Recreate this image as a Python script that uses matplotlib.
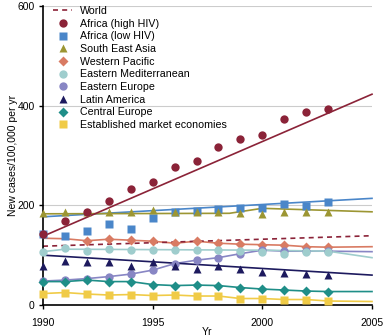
import numpy as np
import matplotlib
matplotlib.use('Agg')
import matplotlib.pyplot as plt
from matplotlib.lines import Line2D
from matplotlib.legend_handler import HandlerLine2D

plt.rcParams['font.family'] = ['Liberation Sans', 'DejaVu Sans']

# Observed points (1990-2003)
years = list(range(1990, 2004))
africa_high = [142, 169, 187, 209, 233, 246, 277, 289, 318, 334, 342, 373, 388, 393]
africa_low = [142, 139, 148, 162, 153, 174, 187, 189, 193, 195, 195, 202, 199, 207]
se_asia = [184, 187, 187, 187, 187, 190, 186, 187, 187, 184, 182, 187, 186, 186]
wp_years = list(range(1992, 2004))
w_pacific = [129, 132, 130, 128, 124, 128, 124, 122, 121, 120, 117, 116]
e_med = [107, 114, 109, 112, 110, 110, 110, 110, 110, 108, 107, 102, 107, 107]
e_europe = [48, 50, 53, 57, 62, 70, 83, 90, 95, 103, 110, 108, 108, 108]
latin_am = [79, 89, 87, 86, 79, 87, 79, 72, 79, 72, 67, 65, 62, 60]
c_europe = [47, 47, 50, 47, 47, 41, 39, 40, 39, 35, 32, 30, 28, 27]
est_market = [23, 25, 22, 20, 21, 19, 20, 18, 18, 13, 13, 11, 11, 8]

# Fitted / model lines
world_line_x, world_line_y = [1990, 2005], [118, 139]
africa_high_line_x, africa_high_line_y = [1990, 2005], [138, 423]
africa_low_line_x, africa_low_line_y = [1990, 2005], [177, 214]
se_asia_line_x = [1990, 1998.5, 2000, 2005]
se_asia_line_y = [183, 184, 194, 187]
wp_line_x = [1990, 1991] + wp_years + [2005]
wp_line_y = [134, 133] + w_pacific + [117]
e_med_line_x = [1990, 1991, 2000, 2003, 2005]
e_med_line_y = [107, 112, 110, 108, 95]
e_europe_line_x = years + [2005]
e_europe_line_y = e_europe + [107]
latin_line_x, latin_line_y = [1990, 2005], [100, 60]
c_europe_line_x = years + [2005]
c_europe_line_y = c_europe + [27]
est_line_x = years + [2005]
est_line_y = est_market + [7]


# legend marker sits near the right end of the handle, as in the original
class RightMarker(HandlerLine2D):
    def get_xdata(self, legend, xdescent, ydescent, width, height, fontsize):
        xdata, _ = super().get_xdata(legend, xdescent, ydescent, width, height, fontsize)
        return xdata, np.array([0.84 * width - xdescent])


fig = plt.figure(figsize=(3.84, 3.36), dpi=100)
ax = fig.add_axes([43 / 384, 1 - 305 / 336, 329 / 384, 299 / 336])

for y in [200, 400, 600]:
    ax.axhline(y, color='#cccccc', lw=0.8, zorder=0)

lw = 1.2

# (points x, points y, line x, line y, color, marker, size, label)
series = [
    (years, africa_low, africa_low_line_x, africa_low_line_y, '#4a86c9', 's', 5.5, 'Africa (low HIV)'),
    (years, se_asia, se_asia_line_x, se_asia_line_y, '#9c9633', '^', 6, 'South East Asia'),
    (wp_years, w_pacific, wp_line_x, wp_line_y, '#d97b63', 'D', 5.5, 'Western Pacific'),
    (years, e_europe, e_europe_line_x, e_europe_line_y, '#8886c4', 'o', 6, 'Eastern Europe'),
    (years, e_med, e_med_line_x, e_med_line_y, '#9fcdcd', 'o', 6, 'Eastern Mediterranean'),
    (years, latin_am, latin_line_x, latin_line_y, '#1d1a5e', '^', 6, 'Latin America'),
    (years, c_europe, c_europe_line_x, c_europe_line_y, '#1f8e88', 'D', 5.5, 'Central Europe'),
    (years, est_market, est_line_x, est_line_y, '#f0cb47', 's', 5.5, 'Established market economies'),
    (years, africa_high, africa_high_line_x, africa_high_line_y, '#8b2338', 'o', 6, 'Africa (high HIV)'),
]

handles = {}
for px, py, lx, ly, col, mk, sz, lab in series:
    ax.plot(lx, ly, color=col, lw=lw, zorder=2, clip_on=False)
    ax.plot(px, py, ls='none', marker=mk, color=col, ms=sz, mec='none',
            zorder=3, clip_on=False)
    handles[lab] = Line2D([], [], ls='none', marker=mk, color=col, ms=sz, mec='none')

ax.plot(world_line_x, world_line_y, color='#8b2338', lw=lw, ls=(0, (3, 2.5)),
        zorder=2, clip_on=False)
handles['World'] = Line2D([], [], color='#8b2338', lw=lw, ls=(0, (3, 2.5)))

order = ['World', 'Africa (high HIV)', 'Africa (low HIV)', 'South East Asia',
         'Western Pacific', 'Eastern Mediterranean', 'Eastern Europe',
         'Latin America', 'Central Europe', 'Established market economies']
ax.legend([handles[k] for k in order], order, loc='upper left',
          bbox_to_anchor=(10 / 329, 1.0), frameon=False, fontsize=7.7,
          handlelength=1.8, handletextpad=0.75, labelspacing=0.25,
          borderpad=0, borderaxespad=0,
          handler_map={Line2D: RightMarker(numpoints=1)})

ax.set_xlim(1990, 2005)
ax.set_ylim(0, 600)
ax.set_xticks([1990, 1995, 2000, 2005])
ax.set_yticks([0, 200, 400, 600])
for s in ['top', 'right']:
    ax.spines[s].set_visible(False)
for s in ['left', 'bottom']:
    ax.spines[s].set_linewidth(1.2)
ax.tick_params(axis='both', labelsize=7.5, length=3, width=1)
ax.tick_params(axis='x', pad=6)
ax.tick_params(axis='y', pad=3)

ax.set_xlabel('Yr', fontsize=7.5)
ax.xaxis.set_label_coords(0.5, -0.072)
ax.set_ylabel('New cases/100,000 per yr', fontsize=7.5)
ax.yaxis.set_label_coords(-0.075, 0.5)

fig.savefig('out.png', dpi=100)
